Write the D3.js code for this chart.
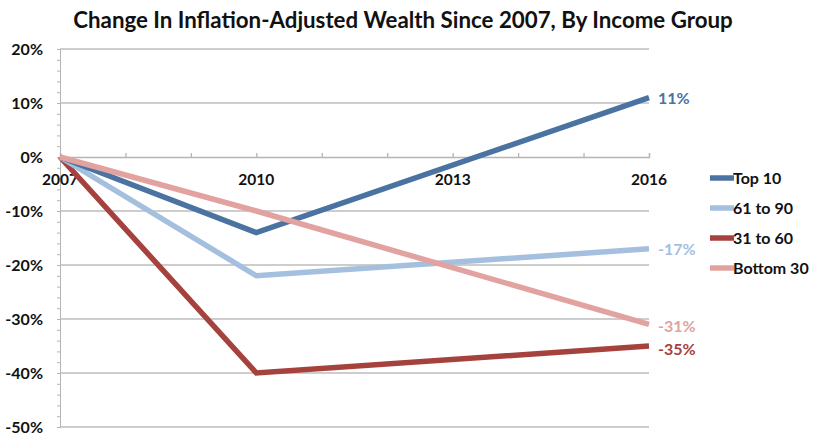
<!DOCTYPE html>
<html><head><meta charset="utf-8">
<script src="https://cdn.jsdelivr.net/npm/d3@7/dist/d3.min.js"></script>
<style>body{margin:0;background:#fff;}svg{display:block;font-family:Lato,"Open Sans",sans-serif;}</style>
</head><body><svg id="c" width="819" height="441"></svg>
<script>
const years = [2007, 2010, 2016];
const xTicks = [2007, 2010, 2013, 2016];
const seriesNames = ["Top 10", "61 to 90", "31 to 60", "Bottom 30"];
const top10 = [0, -14, 11];
const mid61to90 = [0, -22, -17];
const mid31to60 = [0, -40, -35];
const bottom30 = [0, -10, -31];
const endLabels = ["11%", "-17%", "-35%", "-31%"];
const yTicks = [20, 10, 0, -10, -20, -30, -40, -50];
const colors = ["#4a73a1", "#a5bfdf", "#a5423d", "#e2a3a0"];
const values = [top10, mid61to90, mid31to60, bottom30];

const svg = d3.select("#c");
const x = d3.scaleLinear().domain([2007, 2016]).range([60, 649]);
const y = d3.scaleLinear().domain([20, -50]).range([49, 427]);

svg.append("text").attr("x", 403).attr("y", 28).attr("text-anchor", "middle")
  .attr("font-size", 22.3).attr("font-weight", 700).attr("fill", "#111")
  .text("Change In Inflation-Adjusted Wealth Since 2007, By Income Group");

// gridlines
svg.append("g").selectAll("line").data(yTicks.filter(d => d !== 0)).join("line")
  .attr("x1", 60).attr("x2", 649).attr("y1", d => y(d)).attr("y2", d => y(d))
  .attr("stroke", "#bdbdbd").attr("stroke-width", 1.3);

// y axis with minor ticks
const yAxis = d3.axisLeft(y).tickValues(d3.range(-50, 21, 2)).tickSize(3).tickFormat("");
const gy = svg.append("g").attr("transform", "translate(60,0)").call(yAxis);
gy.selectAll("path,line").attr("stroke", "#b5b5b5").attr("stroke-width", 1);
svg.append("g").selectAll("text").data(yTicks).join("text")
  .attr("x", 43).attr("y", d => y(d)).attr("dy", "0.35em").attr("text-anchor", "end")
  .attr("font-size", 16).attr("font-weight", 700).attr("fill", "#111")
  .text(d => d + "%");

// x axis at 0
const xAxis = d3.axisTop(x).tickValues(d3.range(2007, 2017, 1)).tickSize(4).tickFormat("");
const gx = svg.append("g").attr("transform", `translate(0,${y(0)})`).call(xAxis);
gx.selectAll("path,line").attr("stroke", "#b5b5b5").attr("stroke-width", 1.3);
svg.append("g").selectAll("text").data(xTicks).join("text")
  .attr("x", d => x(d)).attr("y", y(0) + 28).attr("text-anchor", "middle")
  .attr("font-size", 15.5).attr("font-weight", 700).attr("fill", "#111")
  .text(d => d);

// lines
const line = d3.line().x((d, i) => x(years[i])).y(d => y(d));
const order = [2, 1, 0, 3];
svg.append("g").selectAll("path").data(order).join("path")
  .attr("d", i => line(values[i])).attr("fill", "none")
  .attr("stroke", i => colors[i]).attr("stroke-width", 5.5)
  .attr("stroke-linejoin", "miter");

// end labels
svg.append("g").selectAll("text").data(seriesNames).join("text")
  .attr("x", 658).attr("y", (d, i) => y(values[i][2]) + [1, 1, 3, 2][i]).attr("dy", "0.35em")
  .attr("font-size", 16).attr("font-weight", 700).attr("fill", (d, i) => colors[i])
  .text((d, i) => endLabels[i]);

// legend
const lg = svg.append("g").selectAll("g").data(seriesNames).join("g")
  .attr("transform", (d, i) => `translate(710,${178 + i * 30})`);
lg.append("line").attr("x1", 0).attr("x2", 24).attr("stroke", (d, i) => colors[i]).attr("stroke-width", 5.5);
lg.append("text").attr("x", 23).attr("dy", "0.35em").attr("font-size", 16).attr("font-weight", 700)
  .attr("fill", "#111").text(d => d);
</script></body></html>
